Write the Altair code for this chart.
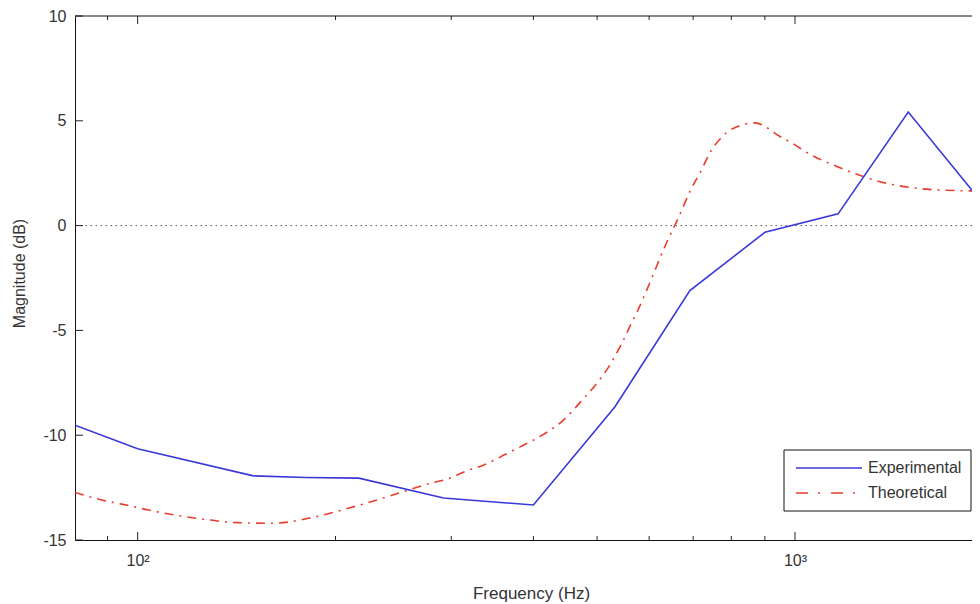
import altair as alt
import pandas as pd

# ---- data ----
series_names = ["Experimental", "Theoretical"]

exp_freq = [80.3, 100, 150, 180, 217, 292, 400, 532, 692, 900, 1163, 1487, 1900]
exp_mag = [-9.52, -10.65, -11.94, -12.02, -12.05, -13.0, -13.33, -8.65, -3.1, -0.32, 0.56, 5.42, 1.32]

theo_freq = [80.3, 88.5, 95, 108, 123.5, 141.5, 160.6, 184.8, 211.7, 242, 278.4, 298.6,
             316.6, 335.7, 363.4, 386, 415, 444, 472, 499, 518, 545, 565, 575.5, 592.7,
             634, 664.6, 694, 718.8, 744.4, 782.7, 839, 869, 949, 1000, 1042, 1163,
             1331, 1531, 1762, 1912]
theo_mag = [-12.73, -13.1, -13.3, -13.68, -13.97, -14.17, -14.2, -13.92, -13.44, -12.9,
            -12.3, -12.05, -11.7, -11.43, -10.9, -10.48, -9.95, -9.29, -8.41, -7.54,
            -6.85, -5.63, -4.6, -4.1, -3.2, -1.0, 0.37, 1.70, 2.59, 3.54, 4.37,
            4.84, 4.9, 4.25, 3.85, 3.49, 2.8, 2.14, 1.78, 1.67, 1.65]

x_major_ticks = [100, 1000]
x_minor_ticks = [90, 200, 300, 400, 500, 600, 700, 800, 900]
y_ticks = [-15, -10, -5, 0, 5, 10]
x_domain = [80.3, 1859]
y_domain = [-15, 10]

BLUE = "#3838d8"
RED = "#ec3b2c"
FONT = "Liberation Sans"
TXT = "#333333"
W, H = 897, 524

exp_df = pd.DataFrame({"freq": exp_freq, "mag": exp_mag})
theo_df = pd.DataFrame({"freq": theo_freq, "mag": theo_mag})

xscale = alt.Scale(type="log", domain=x_domain, nice=False)
yscale = alt.Scale(domain=y_domain, nice=False, zero=False)
xaxis = alt.Axis(values=x_major_ticks,
                 labelExpr="datum.value == 100 ? '10²' : '10³'",
                 ticks=False, grid=False, domainColor="#111111", domainWidth=1,
                 labelFont=FONT, labelFontSize=16, labelColor=TXT, labelPadding=12,
                 labelFlush=False,
                 title="Frequency (Hz)", titleFont=FONT, titleFontSize=17,
                 titleFontWeight="normal", titleColor=TXT,
                 titleX=456, titleY=58, titleBaseline="alphabetic", titleAlign="center")
yaxis = alt.Axis(values=y_ticks, ticks=False, grid=False, domainColor="#111111",
                 domainWidth=1, labelFont=FONT, labelFontSize=16, labelColor=TXT,
                 labelPadding=9,
                 labelExpr="datum.value < 0 ? '-' + abs(datum.value) : '' + datum.value",
                 title="Magnitude (dB)", titleFont=FONT, titleFontSize=16,
                 titleFontWeight="normal", titleColor=TXT,
                 titleX=-56, titleY=257, titleBaseline="middle", titleAlign="center")

X = alt.X("freq:Q", scale=xscale, axis=xaxis)
Y = alt.Y("mag:Q", scale=yscale, axis=yaxis)

zero_line = alt.Chart(pd.DataFrame({"mag": [0]})).mark_rule(
    color="#555555", strokeWidth=1, strokeDash=[1.5, 3.5]).encode(y=Y)

exp_line = alt.Chart(exp_df).mark_line(color=BLUE, strokeWidth=1.6, clip=True).encode(x=X, y=Y)
theo_line = alt.Chart(theo_df).mark_line(
    color=RED, strokeWidth=1.6, strokeDash=[9, 6, 2, 6], interpolate="monotone", clip=True
).encode(x=X, y=Y)

# inward tick marks (MATLAB style)
major_df = pd.DataFrame({"freq": x_major_ticks})
minor_df = pd.DataFrame({"freq": x_minor_ticks})
ytick_df = pd.DataFrame({"mag": y_ticks})
tick_color = "#222222"
xt_major_bot = alt.Chart(major_df).mark_rule(color=tick_color).encode(
    x=X, y=alt.value(H), y2=alt.value(H - 8))
xt_minor_bot = alt.Chart(minor_df).mark_rule(color=tick_color).encode(
    x=X, y=alt.value(H), y2=alt.value(H - 4))
xt_major_top = alt.Chart(major_df).mark_rule(color=tick_color).encode(
    x=X, y=alt.value(0), y2=alt.value(8))
xt_minor_top = alt.Chart(minor_df).mark_rule(color=tick_color).encode(
    x=X, y=alt.value(0), y2=alt.value(4))
yt_left = alt.Chart(ytick_df).mark_rule(color=tick_color).encode(
    y=Y, x=alt.value(0), x2=alt.value(8))

top_border = alt.Chart(pd.DataFrame({"k": [0]})).mark_rule(
    color="#111111", strokeWidth=1).encode(
    x=alt.value(0), x2=alt.value(W), y=alt.value(0))

# legend box
leg_df0 = pd.DataFrame({"label": [series_names[0]]})
leg_df1 = pd.DataFrame({"label": [series_names[1]]})
leg_box = alt.Chart(pd.DataFrame({"k": [0]})).mark_rect(
    fill="white", stroke="#111111", strokeWidth=1).encode(
    x=alt.value(709), x2=alt.value(896), y=alt.value(434), y2=alt.value(495))
leg_l0 = alt.Chart(leg_df0).mark_rule(color=BLUE, strokeWidth=1.6).encode(
    x=alt.value(721), x2=alt.value(787), y=alt.value(452))
leg_l1 = alt.Chart(leg_df1).mark_rule(color=RED, strokeWidth=1.6,
                                      strokeDash=[12, 10, 2, 11]).encode(
    x=alt.value(721), x2=alt.value(787), y=alt.value(477))
leg_t0 = alt.Chart(leg_df0).mark_text(align="left", baseline="middle", font=FONT,
                                      fontSize=16, color=TXT).encode(
    x=alt.value(793), y=alt.value(452), text="label:N")
leg_t1 = alt.Chart(leg_df1).mark_text(align="left", baseline="middle", font=FONT,
                                      fontSize=16, color=TXT).encode(
    x=alt.value(793), y=alt.value(477), text="label:N")

chart = alt.layer(
    zero_line, theo_line, exp_line,
    xt_major_bot, xt_minor_bot, xt_major_top, xt_minor_top, yt_left, top_border,
    leg_box, leg_l0, leg_l1, leg_t0, leg_t1,
).properties(
    width=W, height=H,
    autosize=alt.AutoSizeParams(type="none"),
    padding={"left": 67, "top": 8, "right": 0, "bottom": 64},
    background="white",
).configure_view(stroke=None)

chart.save("out.html", embed_options={"renderer": "svg", "actions": False})
